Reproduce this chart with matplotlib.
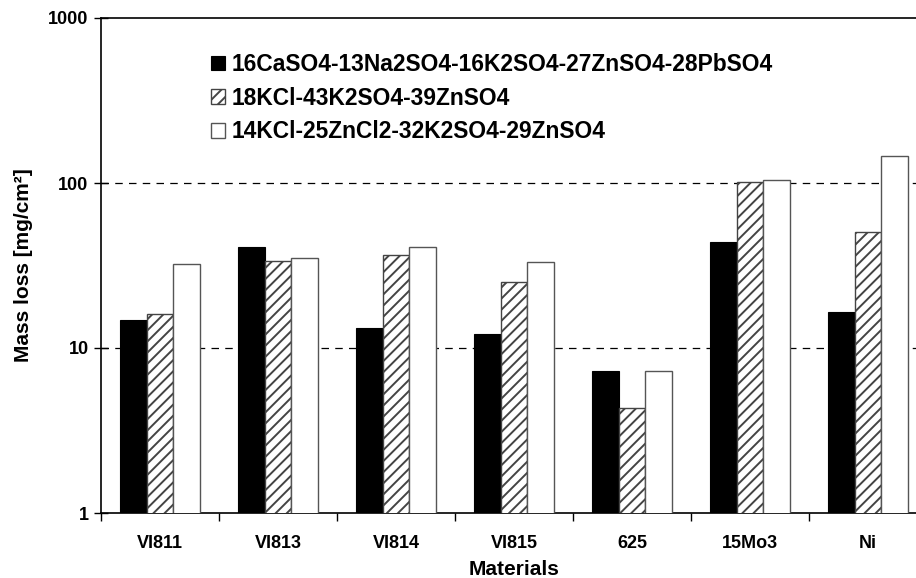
import matplotlib
matplotlib.use("Agg")
import matplotlib.pyplot as plt
import numpy as np

materials = ["VI811", "VI813", "VI814", "VI815", "625", "15Mo3", "Ni"]
series_labels = ["16CaSO4-13Na2SO4-16K2SO4-27ZnSO4-28PbSO4",
                 "18KCl-43K2SO4-39ZnSO4",
                 "14KCl-25ZnCl2-32K2SO4-29ZnSO4"]
s1 = [14.8, 41.0, 13.2, 12.2, 7.3, 44.0, 16.5]
s2 = [16.1, 33.7, 36.6, 25.0, 4.3, 101.0, 50.7]
s3 = [32.3, 35.0, 41.0, 33.0, 7.3, 104.0, 146.0]
yticks = [1, 10, 100, 1000]

plt.rcParams['font.family'] = ['Liberation Sans', 'DejaVu Sans']
plt.rcParams['font.weight'] = 'bold'
plt.rcParams['hatch.linewidth'] = 1.4
plt.rcParams['hatch.color'] = '#3a3a3a'

fig = plt.figure(figsize=(9.16, 5.78), dpi=100)
W, H = 916, 578
ax = fig.add_axes([101 / W, (H - 513) / H, 826 / W, 495 / H])

x = np.arange(len(materials))
bw = 0.225
ax.bar(x - bw, s1, bw, color='black', edgecolor='black', linewidth=0.8,
       label=series_labels[0], zorder=3)
ax.bar(x, s2, bw, color='white', edgecolor='#444444', linewidth=1.0,
       hatch='///', label=series_labels[1], zorder=3)
ax.bar(x + bw, s3, bw, color='white', edgecolor='#555555', linewidth=1.0,
       label=series_labels[2], zorder=3)

ax.set_yscale('log')
ax.set_ylim(1, 1000)
ax.set_xlim(-0.5, len(materials) - 0.5)
ax.set_yticks(yticks)
ax.set_yticklabels([str(v) for v in yticks])
ax.yaxis.set_minor_locator(matplotlib.ticker.NullLocator())
ax.tick_params(axis='y', which='major', direction='inout', length=10,
               width=1, labelsize=13, pad=4)

ax.set_xticks(x)
ax.set_xticklabels(materials)
ax.set_xticks(np.arange(len(materials) + 1) - 0.5, minor=True)
ax.tick_params(axis='x', which='major', length=0, labelsize=13, pad=15.5)
ax.tick_params(axis='x', which='minor', direction='out', length=6, width=1)

for v in [10, 100]:
    ax.axhline(v, color='black', linestyle=(0, (6, 5)), linewidth=0.9, zorder=1)

for sp in ['left', 'bottom', 'top', 'right']:
    ax.spines[sp].set_linewidth(1.2)

ax.set_xlabel('Materials', fontsize=15, fontweight='bold', labelpad=6)
ax.set_ylabel('Mass loss [mg/cm²]', fontsize=15, fontweight='bold', labelpad=11)

leg = ax.legend(loc='upper left', bbox_to_anchor=(211 / W, 1 - 53 / H),
                bbox_transform=fig.transFigure, frameon=False,
                fontsize=16.4, handlelength=0.62, handleheight=0.62,
                handletextpad=0.3, labelspacing=0.47, borderaxespad=0,
                borderpad=0)
for t in leg.get_texts():
    t.set_fontweight('bold')

fig.savefig('out.png', dpi=100)
